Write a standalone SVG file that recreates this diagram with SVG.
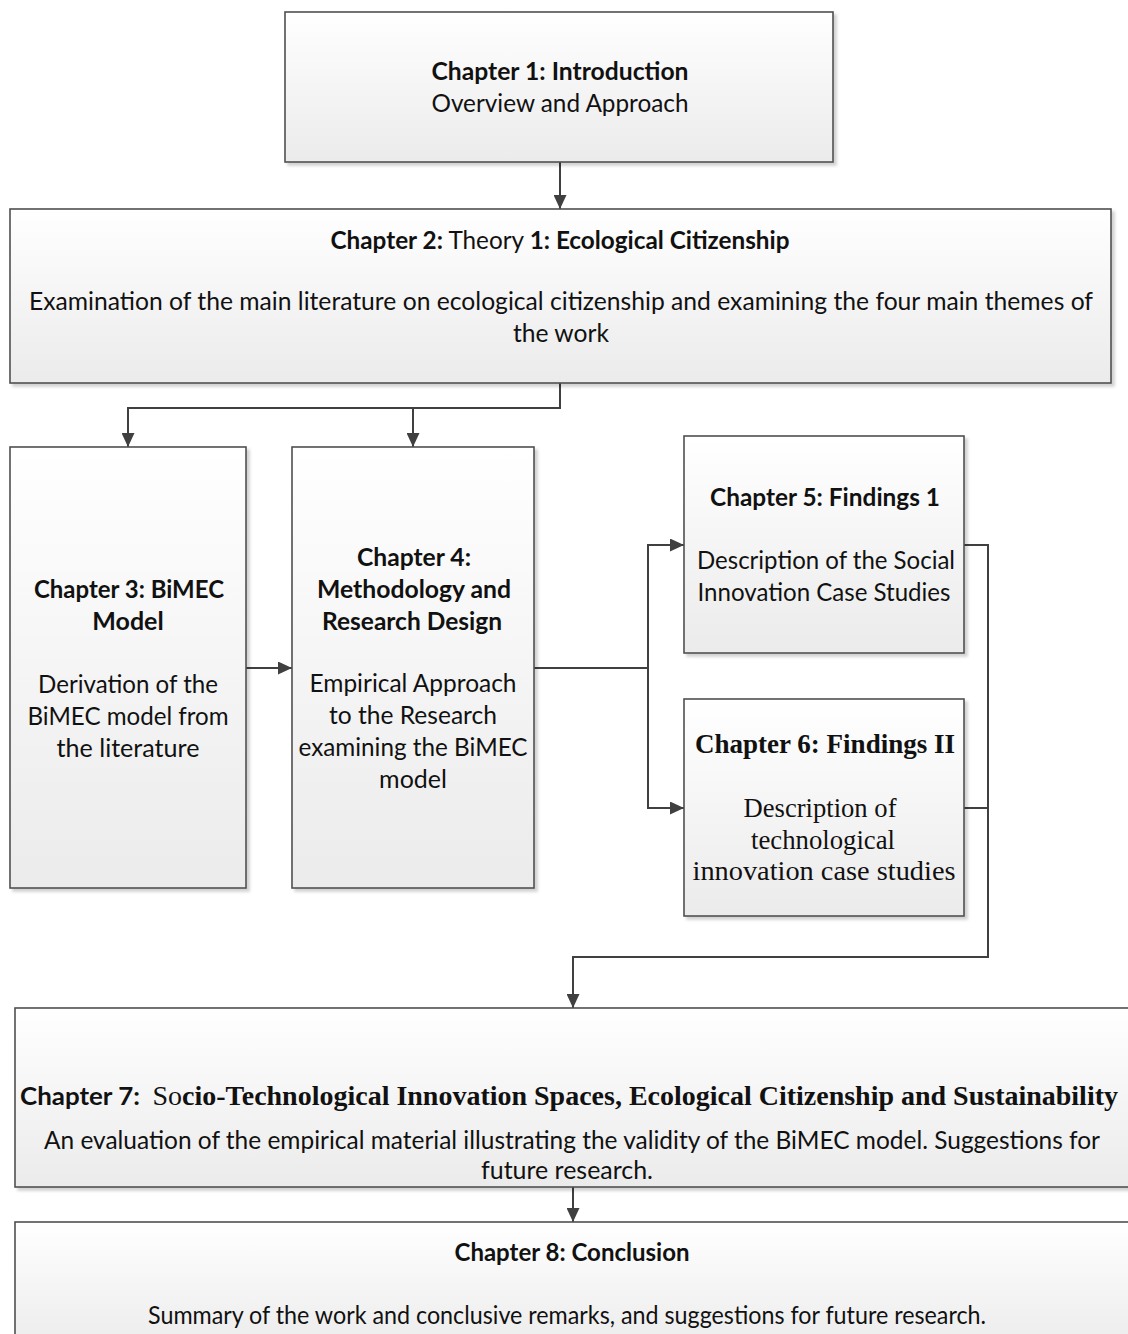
<svg xmlns="http://www.w3.org/2000/svg" width="1128" height="1334" viewBox="0 0 1128 1334">
  <defs>
    <linearGradient id="boxFill" x1="0" y1="0" x2="0" y2="1">
      <stop offset="0" stop-color="#ffffff"/>
      <stop offset="1" stop-color="#ebebeb"/>
    </linearGradient>
    <filter id="shadow" x="-5%" y="-5%" width="112%" height="115%">
      <feDropShadow dx="3" dy="3" stdDeviation="1.5" flood-color="#000000" flood-opacity="0.18"/>
    </filter>
    <marker id="arrow" viewBox="0 0 14 13" refX="14" refY="6.5" markerWidth="14" markerHeight="13" markerUnits="userSpaceOnUse" orient="auto">
      <path d="M0,0 L14,6.5 L0,13 z" fill="#404040"/>
    </marker>
  </defs>
  <style>
    .box { fill: url(#boxFill); stroke: #505050; stroke-width: 1.6; filter: url(#shadow); }
    .t { font-family: Lato, "Liberation Sans", sans-serif; font-size: 25px; fill: #111111; text-anchor: middle; }
    .b { font-weight: bold; }
    .n { font-weight: normal; }
    .s { font-family: "Liberation Serif", serif; font-size: 27px; }
    .conn { fill: none; stroke: #404040; stroke-width: 2; }
    .head { marker-end: url(#arrow); }
  </style>

  <!-- connectors -->
  <g id="connectors">
    <path class="conn head" d="M560,162 V209"/>
    <path class="conn head" d="M560,383 V408 H128 V447"/>
    <path class="conn head" d="M413,408 V447"/>
    <path class="conn head" d="M246,668 H292"/>
    <path class="conn head" d="M534,668 H648 V545 H684"/>
    <path class="conn head" d="M648,668 V808 H684"/>
    <path class="conn head" d="M964,545 H988 V957 H573 V1008"/>
    <path class="conn" d="M964,808 H988"/>
    <path class="conn head" d="M573,1187 V1222"/>
  </g>

  <!-- chapter 1 -->
  <g id="ch1">
    <rect class="box" x="285" y="12" width="548" height="150"/>
    <text class="t b" x="560" y="80" textLength="257" lengthAdjust="spacingAndGlyphs">Chapter 1: Introduction</text>
    <text class="t" x="560" y="112" textLength="257" lengthAdjust="spacingAndGlyphs">Overview and Approach</text>
  </g>

  <!-- chapter 2 -->
  <g id="ch2">
    <rect class="box" x="10" y="209" width="1101" height="174"/>
    <text class="t b" x="560" y="249" textLength="459" lengthAdjust="spacingAndGlyphs">Chapter 2:<tspan class="n"> Theory </tspan>1: Ecological Citizenship</text>
    <text class="t" x="561" y="310" textLength="1064" lengthAdjust="spacingAndGlyphs">Examination of the main literature on ecological citizenship and examining the four main themes of</text>
    <text class="t" x="561" y="342" textLength="96" lengthAdjust="spacingAndGlyphs">the work</text>
  </g>

  <!-- chapter 3 -->
  <g id="ch3">
    <rect class="box" x="10" y="447" width="236" height="441"/>
    <text class="t b" x="129" y="598" textLength="190" lengthAdjust="spacingAndGlyphs">Chapter 3: BiMEC</text>
    <text class="t b" x="128" y="630">Model</text>
    <text class="t" x="128" y="693" textLength="180" lengthAdjust="spacingAndGlyphs">Derivation of the</text>
    <text class="t" x="128" y="725" textLength="201" lengthAdjust="spacingAndGlyphs">BiMEC model from</text>
    <text class="t" x="128" y="757" textLength="143" lengthAdjust="spacingAndGlyphs">the literature</text>
  </g>

  <!-- chapter 4 -->
  <g id="ch4">
    <rect class="box" x="292" y="447" width="242" height="441"/>
    <text class="t b" x="414" y="566" textLength="114" lengthAdjust="spacingAndGlyphs">Chapter 4:</text>
    <text class="t b" x="414" y="598" textLength="194" lengthAdjust="spacingAndGlyphs">Methodology and</text>
    <text class="t b" x="412" y="630" textLength="180" lengthAdjust="spacingAndGlyphs">Research Design</text>
    <text class="t" x="413" y="692" textLength="207" lengthAdjust="spacingAndGlyphs">Empirical Approach</text>
    <text class="t" x="413" y="724" textLength="168" lengthAdjust="spacingAndGlyphs">to the Research</text>
    <text class="t" x="413" y="756" textLength="229" lengthAdjust="spacingAndGlyphs">examining the BiMEC</text>
    <text class="t" x="413" y="788">model</text>
  </g>

  <!-- chapter 5 -->
  <g id="ch5">
    <rect class="box" x="684" y="436" width="280" height="217"/>
    <text class="t b" x="825" y="506" textLength="230" lengthAdjust="spacingAndGlyphs">Chapter 5: Findings 1</text>
    <text class="t" x="826" y="569" textLength="258" lengthAdjust="spacingAndGlyphs">Description of the Social</text>
    <text class="t" x="824" y="601" textLength="253" lengthAdjust="spacingAndGlyphs">Innovation Case Studies</text>
  </g>

  <!-- chapter 6 -->
  <g id="ch6">
    <rect class="box" x="684" y="699" width="280" height="217"/>
    <text class="t s b" x="825" y="753" textLength="260" lengthAdjust="spacingAndGlyphs">Chapter 6: Findings II</text>
    <text class="t s" x="820" y="817" textLength="153" lengthAdjust="spacingAndGlyphs">Description of</text>
    <text class="t s" x="823" y="849" textLength="144" lengthAdjust="spacingAndGlyphs">technological</text>
    <text class="t s" x="824" y="880" textLength="263" lengthAdjust="spacingAndGlyphs">innovation case studies</text>
  </g>

  <!-- chapter 7 -->
  <g id="ch7">
    <rect class="box" x="15" y="1008" width="1125" height="179"/>
    <text class="t b" x="20" y="1105" style="text-anchor:start" textLength="1098" lengthAdjust="spacingAndGlyphs">Chapter 7:&#160; <tspan class="s n">So</tspan><tspan class="s">cio-Technological Innovation Spaces, Ecological Citizenship and Sustainability</tspan></text>
    <text class="t" x="572" y="1149" textLength="1056" lengthAdjust="spacingAndGlyphs">An evaluation of the empirical material illustrating the validity of the BiMEC model. Suggestions for</text>
    <text class="t" x="567" y="1179" textLength="172" lengthAdjust="spacingAndGlyphs">future research.</text>
  </g>

  <!-- chapter 8 -->
  <g id="ch8">
    <rect class="box" x="15" y="1222" width="1125" height="130"/>
    <text class="t b" x="572" y="1261" textLength="235" lengthAdjust="spacingAndGlyphs">Chapter 8: Conclusion</text>
    <text class="t" x="567" y="1324" textLength="838" lengthAdjust="spacingAndGlyphs">Summary of the work and conclusive remarks, and suggestions for future research.</text>
  </g>
</svg>
